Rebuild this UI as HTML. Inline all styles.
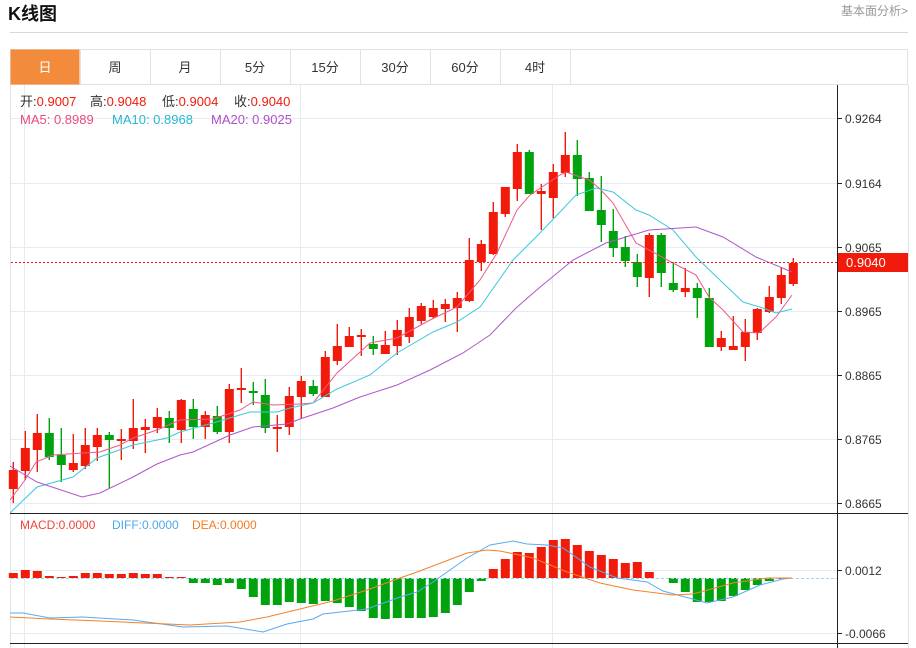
<!DOCTYPE html>
<html><head><meta charset="utf-8"><style>
body{margin:0;background:#fff;width:916px;height:648px;overflow:hidden;font-family:"Liberation Sans","Noto Sans CJK SC",sans-serif;}
</style></head><body>
<svg id="s" width="916" height="648" xmlns="http://www.w3.org/2000/svg" style="position:absolute;left:0;top:0;font-family:'Liberation Sans','Noto Sans CJK SC',sans-serif">
<text x="8" y="20" font-size="18" font-weight="bold" fill="#111">K线图</text>
<text x="908" y="15" font-size="12" fill="#999" text-anchor="end">基本面分析&gt;</text>
<line x1="10" y1="32.5" x2="908" y2="32.5" stroke="#d8d8d8"/>
<rect x="10.5" y="49.5" width="897" height="35" fill="#fff" stroke="#e2e2e2"/>
<rect x="10.5" y="49.5" width="69" height="35" fill="#f28c3c"/>
<g stroke="#e2e2e2"><line x1="80.5" y1="50" x2="80.5" y2="84"/><line x1="150.5" y1="50" x2="150.5" y2="84"/><line x1="220.5" y1="50" x2="220.5" y2="84"/><line x1="290.5" y1="50" x2="290.5" y2="84"/><line x1="360.5" y1="50" x2="360.5" y2="84"/><line x1="430.5" y1="50" x2="430.5" y2="84"/><line x1="500.5" y1="50" x2="500.5" y2="84"/><line x1="570.5" y1="50" x2="570.5" y2="84"/></g>
<g font-size="13" text-anchor="middle" fill="#333"><text x="45" y="72" fill="#fff">日</text><text x="115" y="72">周</text><text x="185" y="72">月</text><text x="255" y="72">5分</text><text x="325" y="72">15分</text><text x="395" y="72">30分</text><text x="465" y="72">60分</text><text x="535" y="72">4时</text></g>
<line x1="10.5" y1="85" x2="10.5" y2="648" stroke="#e2e2e2"/>
<line x1="908.5" y1="85" x2="908.5" y2="648" stroke="#e2e2e2"/>
<g id="g"></g>
</svg>
<script>
var g=document.getElementById('g'),h='';
function L(x1,y1,x2,y2,c,w,extra){h+='<line x1="'+x1+'" y1="'+y1+'" x2="'+x2+'" y2="'+y2+'" stroke="'+c+'" stroke-width="'+(w||1)+'" '+(extra||'')+'/>';}
function T(x,y,t,c,s,a){h+='<text x="'+x+'" y="'+y+'" fill="'+c+'" font-size="'+(s||12)+'"'+(a?' text-anchor="'+a+'"':'')+'>'+t+'</text>';}
function P(pts,c,w){h+='<polyline fill="none" stroke="'+c+'" stroke-width="'+(w||1)+'" points="'+pts.map(function(p){return p.join(',')}).join(' ')+'"/>';}
var gc='#e4ebf2';
[118,183,247,311,375,439,503,570,633].forEach(function(y){L(11,y+.5,837,y+.5,gc);});
[24,300,552].forEach(function(x){L(x+.5,85,x+.5,648,gc);});
var C=[[489,470,462,503],[471,448,431,480],[450,433,414,472],[433,457,418,460],[455,465,428,482],[470,463,434,472],[466,445,428,469],[447,435,428,461],[435,440,432,488],[441,439,429,460],
[441,428,399,449],[430,427,419,453],[428,417,408,433],[418,428,411,443],[430,400,399,443],[409,427,399,439],[427,415,411,439],[416,432,406,434],[432,389,384,443],[389,388,368,403],
[391,393,382,405],[395,428,379,433],[428,427,415,452],[427,396,387,435],[397,381,376,419],[386,394,380,396],[397,357,351,397],[361,346,324,365],[347,336,327,347],[337,335,329,356],
[344,349,336,355],[354,345,331,354],[346,330,320,355],[337,317,308,343],[321,306,303,324],[317,308,300,319],[309,304,299,322],[308,298,292,332],[301,260,238,302],[262,244,240,271],
[254,212,202,255],[214,187,187,217],[189,152,144,201],[152,194,150,194],[194,191,184,230],[198,172,164,218],[173,155,132,177],[155,179,140,196],[178,211,172,211],[210,225,176,242],
[231,248,209,257],[247,261,236,267],[262,277,254,287],[278,235,233,297],[235,273,233,287],[283,290,262,292],[292,288,268,297],[288,298,283,318],[298,347,288,347],[347,338,331,351],
[350,346,316,350],[347,332,319,361],[333,309,308,340],[312,297,286,313],[298,275,267,304],[284,263,258,286]];
var R='#f21a0a',G='#00a30e';
C.forEach(function(c,k){var x=13.3+12*k,o=c[0],cl=c[1],col=cl<=o?R:G;
 L(x,c[2],x,c[3],col,1.4);var t=Math.min(o,cl),b=Math.max(o,cl);if(b-t<2){b=t+2;}
 h+='<rect x="'+(x-4.5)+'" y="'+t+'" width="9" height="'+(b-t)+'" fill="'+col+'"/>';});
P([[10,500],[25,480],[36,462],[53,455],[83,453],[100,452],[120,445],[133,438],[157,430],[180,420],[213,419],[240,410],[253,402],[273,405],[300,404],[313,403],[337,373],[370,343],[397,338],[430,320],[457,307],[480,280],[497,253],[517,210],[530,195],[560,175],[566,172],[589,180],[599,188],[613,203],[636,243],[649,250],[673,263],[696,275],[709,297],[723,310],[743,332],[759,333],[776,317],[792,295]],'#ec5a8c');
P([[10,513],[37,487],[73,477],[97,458],[133,445],[167,438],[180,432],[213,423],[250,412],[277,412],[290,408],[313,403],[337,389],[370,375],[397,353],[433,332],[457,322],[480,307],[513,260],[540,233],[560,212],[576,195],[596,188],[613,192],[636,210],[649,215],[673,230],[696,257],[723,283],[743,302],[763,308],[776,313],[792,309]],'#3cc8dc');
P([[10,466],[37,482],[82,497],[100,493],[133,477],[157,464],[180,455],[193,452],[230,435],[253,427],[287,424],[300,419],[333,408],[360,397],[397,385],[430,370],[463,353],[490,335],[516,308],[539,288],[573,260],[606,243],[649,230],[696,227],[723,237],[756,257],[792,272]],'#b055cc');
L(11,262.5,837,262.5,'#f21a0a',1,'stroke-dasharray="2,2"');
h+='<rect x="838" y="253" width="70" height="19" fill="#f21a0a"/>';T(846,267,'0.9040','#fff',13);
L(837.5,85,837.5,648,'#222');
[[118,'0.9264'],[183,'0.9164'],[247,'0.9065'],[311,'0.8965'],[375,'0.8865'],[439,'0.8765'],[503,'0.8665']].forEach(function(a){L(837,a[0]+.5,842,a[0]+.5,'#222');T(845,a[0]+5,a[1],'#333',12);});
L(10,513.5,908,513.5,'#222');L(10,643.5,908,643.5,'#222');
[[570,'0.0012'],[633,'-0.0066']].forEach(function(a){L(837,a[0]+.5,842,a[0]+.5,'#222');T(845,a[0]+5,a[1],'#333',12);});
// legend
T(20,106,'开:<tspan fill="#f21a0a">0.9007</tspan>','#333',13);
T(90,106,'高:<tspan fill="#f21a0a">0.9048</tspan>','#333',13);
T(162,106,'低:<tspan fill="#f21a0a">0.9004</tspan>','#333',13);
T(234,106,'收:<tspan fill="#f21a0a">0.9040</tspan>','#333',13);
T(20,124,'MA5: 0.8989','#ec4a80',13);
T(112,124,'MA10: 0.8968','#26b8d0',13);
T(211,124,'MA20: 0.9025','#b04fc8',13);
T(20,529,'MACD:0.0000','#f0443a',12);
T(112,529,'DIFF:0.0000','#4aa8f0',12);
T(192,529,'DEA:0.0000','#f57a20',12);
var M=[573,570,571,576,577,576,573,573,574,574,573,574,574,577,577,583,583,585,583,589,597,605,605,602,603,604,601,603,607,611,618,619,618,618,618,617,613,605,592,581,569,559,552,553,547,540,539,545,551,555,559,563,562,572,578,583,592,602,602,601,596,590,585,581,579,578];
M.forEach(function(y,k){var x=13.3+12*k;if(Math.abs(y-578)<0.5)return;var t=Math.min(y,578),b=Math.max(y,578);h+='<rect x="'+(x-4.5)+'" y="'+t+'" width="9" height="'+(b-t)+'" fill="'+(y<578?R:G)+'"/>';});
L(11,578.5,837,578.5,'#9fd8ee',1,'stroke-dasharray="3,2"');
P([[10,613],[23,613],[50,618],[83,617],[133,620],[183,627],[227,626],[263,632],[287,624],[313,619],[323,614],[367,609],[400,597],[417,592],[433,582],[467,558],[490,545],[513,541],[527,544],[547,545],[563,548],[590,567],[617,578],[647,582],[663,591],[707,603],[733,597],[760,585],[783,579],[792,578]],'#5aaaf0');
P([[10,617],[50,619],[100,621],[190,625],[240,622],[267,617],[300,609],[333,601],[367,590],[400,578],[417,572],[467,553],[487,550],[500,551],[533,558],[567,572],[600,583],[633,590],[673,595],[693,594],[733,583],[767,578],[792,578]],'#f5822a');
g.innerHTML=h;
</script>
</body></html>
